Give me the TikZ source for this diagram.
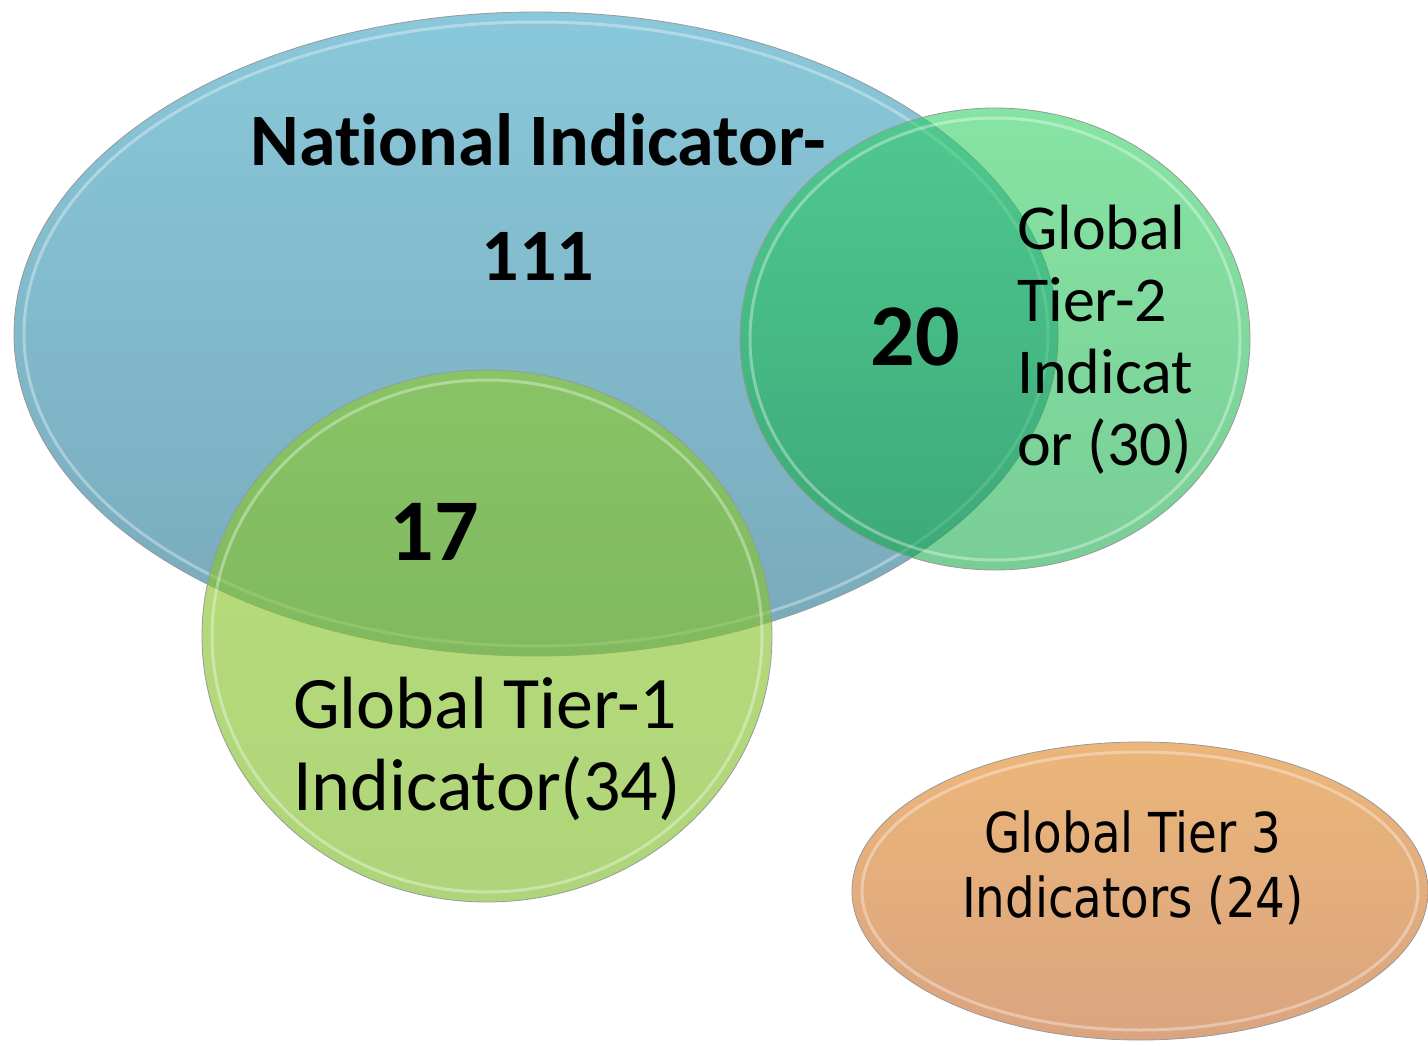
\documentclass[tikz,border=0pt]{standalone}
\usepackage{fontspec}
\setmainfont{Carlito}[Ligatures=NoCommon]
\newfontfamily\tierthreefont[FakeStretch=0.85]{DejaVu Sans}
\usetikzlibrary{shapes.geometric, positioning}

\definecolor{natTop}{RGB}{137,200,218}
\definecolor{natBot}{RGB}{120,170,187}
\definecolor{twoTop}{RGB}{35,206,88}
\definecolor{twoBot}{RGB}{10,165,64}
\definecolor{oneTop}{RGB}{142,203,44}
\definecolor{oneBot}{RGB}{128,188,44}
\definecolor{threeTop}{RGB}{236,182,122}
\definecolor{threeBot}{RGB}{218,164,128}

\tikzset{
  set/.style={ellipse, inner sep=0pt, outer sep=0pt, draw=black!40, line width=0.8pt},
  rim/.style={draw=white, line width=3pt, opacity=0.35},
  setname/.style={inner sep=0pt, font=\fontsize{74}{82}\selectfont},
  count/.style={inner sep=0pt, anchor=base, font=\bfseries\fontsize{88}{88}\selectfont}
}

\begin{document}
\begin{tikzpicture}[x=1pt, y=-1pt]
\useasboundingbox (0,0) rectangle (1428,1046);

% the four sets
\node[set, minimum width=1044pt, minimum height=644pt,
      top color=natTop, bottom color=natBot] (national) at (536,334) {};
\draw[rim] (national.center) ellipse [x radius=512, y radius=312];

\node[set, minimum width=510pt, minimum height=462pt, fill opacity=0.55,
      top color=twoTop, bottom color=twoBot] (tiertwo) at (995,339) {};
\draw[rim] (tiertwo.center) ellipse [x radius=245, y radius=221];

\node[set, minimum width=570pt, minimum height=532pt, fill opacity=0.63,
      top color=oneTop, bottom color=oneBot] (tierone) at (487,636) {};
\draw[rim] (tierone.center) ellipse [x radius=275, y radius=256];

\node[set, minimum width=576pt, minimum height=298pt,
      top color=threeTop, bottom color=threeBot] (tierthree) at (1140,891) {};
\draw[rim] (tierthree.center) ellipse [x radius=278, y radius=139];

% names and counts (base = last line)
\node[setname, align=center, anchor=base, font=\bfseries\fontsize{74}{115}\selectfont]
  (natname) at (538,280) {National Indicator-\\111};
\node[count] (bothtwo) at (915,365) {20};
\node[count] (bothone) at (434,560) {17};
\node[setname, align=left, anchor=base west, font=\fontsize{64}{72}\selectfont]
  (twoname) at (1017,465) {Global\\Tier-2\\Indicat\\or (30)};
\node[setname, align=left, anchor=base west] (onename) at (293,810) {Global Tier-1\\Indicator(34)};
\node[setname, align=center, anchor=base, font=\tierthreefont\fontsize{55}{65}\selectfont]
  (threename) at (1133,917) {Global Tier 3\\Indicators (24)};
\end{tikzpicture}
\end{document}
